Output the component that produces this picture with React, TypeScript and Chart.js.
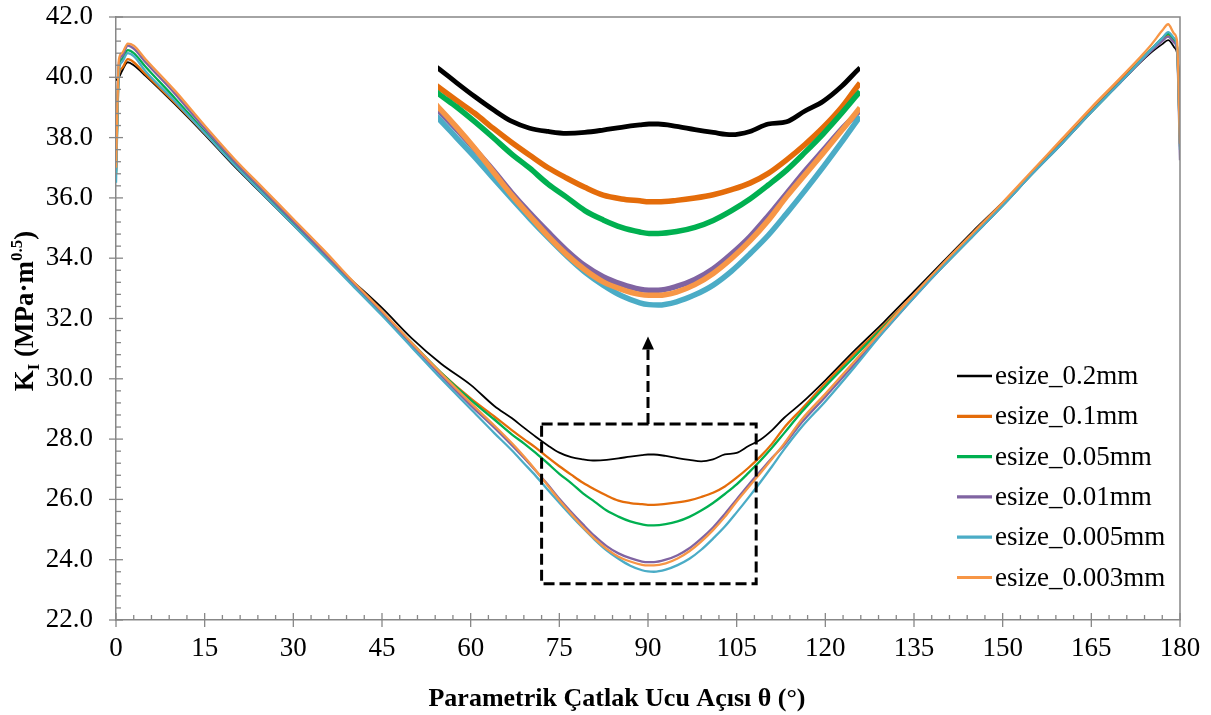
import React, { useEffect, useRef } from "react";
import { Chart, registerables } from "chart.js";

Chart.register(...registerables);

// ---------- data ----------
const THETA = [
  0, 0.5, 1, 2, 3, 5, 10, 15, 20, 25, 30, 35, 40, 45, 50, 55, 60, 64,
  67, 69, 71, 73, 75, 77, 79, 81, 83, 85, 87, 89, 90, 91, 93, 95, 97, 99, 101, 103, 105, 107, 109, 111, 113,
  116, 120, 125, 130, 135, 140, 145, 150, 155, 160, 165, 170, 175, 177, 178, 179, 179.5, 180,
];

const K_ESIZE_0_2 = [
  39.9, 40.0, 40.2, 40.5, 40.4, 40.05, 39.1, 38.1, 37.05, 36.08, 35.1, 34.15, 33.25, 32.35, 31.35, 30.5, 29.8, 29.1,
  28.69, 28.38, 28.08, 27.8, 27.55, 27.4, 27.33, 27.29, 27.31, 27.36, 27.42, 27.47, 27.49, 27.49, 27.44, 27.37, 27.31, 27.26, 27.33, 27.49, 27.54, 27.77, 27.98, 28.3, 28.7,
  29.2, 29.95, 30.95, 31.9, 32.9, 33.9, 34.9, 35.85, 36.85, 37.85, 38.85, 39.85, 40.8, 41.1, 41.23, 41.0, 40.8, 39.7,
];
const K_ESIZE_0_1 = [
  36.8, 40.1, 40.3, 40.6, 40.5, 40.1, 39.15, 38.15, 37.12, 36.12, 35.12, 34.12, 33.15, 32.15, 31.15, 30.2, 29.35, 28.75,
  28.29, 28.0, 27.72, 27.4, 27.1, 26.82, 26.55, 26.33, 26.13, 25.96, 25.88, 25.84, 25.82, 25.82, 25.85, 25.9, 25.97, 26.08, 26.22, 26.43, 26.72, 27.05, 27.42, 27.85, 28.37,
  29.0, 29.85, 30.85, 31.8, 32.8, 33.8, 34.8, 35.8, 36.85, 37.85, 38.9, 39.9, 40.9, 41.25, 41.4, 41.2, 41.0, 37.7,
];
const K_ESIZE_0_05 = [
  36.8, 40.4, 40.6, 40.9, 40.8, 40.35, 39.3, 38.2, 37.18, 36.18, 35.18, 34.18, 33.2, 32.2, 31.2, 30.2, 29.3, 28.65,
  28.15, 27.86, 27.54, 27.2, 26.85, 26.54, 26.2, 25.92, 25.63, 25.43, 25.27, 25.17, 25.14, 25.14, 25.18, 25.27, 25.42, 25.63, 25.88, 26.18, 26.5, 26.88, 27.28, 27.72, 28.19,
  28.9, 29.75, 30.75, 31.75, 32.75, 33.75, 34.75, 35.75, 36.8, 37.8, 38.85, 39.85, 40.9, 41.3, 41.45, 41.25, 41.0, 37.8,
];
const K_ESIZE_0_01 = [
  36.9, 40.5, 40.7, 41.05, 40.95, 40.5, 39.45, 38.3, 37.22, 36.22, 35.22, 34.2, 33.2, 32.2, 31.15, 30.1, 29.12, 28.38,
  27.79, 27.38, 26.95, 26.5, 26.02, 25.58, 25.17, 24.78, 24.45, 24.21, 24.05, 23.94, 23.92, 23.92, 24.0, 24.15, 24.38, 24.7, 25.07, 25.52, 26.0, 26.48, 26.93, 27.38, 27.79,
  28.55, 29.4, 30.5, 31.6, 32.7, 33.75, 34.75, 35.75, 36.8, 37.8, 38.85, 39.85, 40.85, 41.2, 41.35, 41.15, 40.9, 37.25,
];
const K_ESIZE_0_005 = [
  36.5, 40.2, 40.5, 40.8, 40.7, 40.2, 39.2, 38.15, 37.1, 36.1, 35.1, 34.1, 33.1, 32.1, 31.05, 30.0, 29.0, 28.2,
  27.62, 27.2, 26.78, 26.33, 25.89, 25.46, 25.05, 24.66, 24.31, 24.03, 23.8, 23.65, 23.61, 23.6, 23.67, 23.82, 24.03, 24.33, 24.7, 25.1, 25.57, 26.06, 26.57, 27.1, 27.65,
  28.4, 29.25, 30.4, 31.6, 32.7, 33.75, 34.75, 35.75, 36.8, 37.8, 38.85, 39.85, 40.9, 41.3, 41.5, 41.3, 41.0, 37.6,
];
const K_ESIZE_0_003 = [
  37.0, 40.6, 40.8, 41.12, 41.05, 40.6, 39.55, 38.4, 37.3, 36.3, 35.3, 34.3, 33.25, 32.25, 31.2, 30.18, 29.2, 28.45,
  27.86, 27.43, 26.97, 26.47, 25.97, 25.52, 25.08, 24.69, 24.36, 24.1, 23.94, 23.83, 23.81, 23.81, 23.88, 24.04, 24.28, 24.6, 24.98, 25.42, 25.93, 26.4, 26.87, 27.35, 27.84,
  28.65, 29.5, 30.6, 31.7, 32.8, 33.85, 34.85, 35.85, 36.9, 37.95, 39.0, 40.0, 41.05, 41.55, 41.76, 41.45, 41.2, 37.8,
];

const SERIES_NAMES = [
  "esize_0.2mm",
  "esize_0.1mm",
  "esize_0.05mm",
  "esize_0.01mm",
  "esize_0.005mm",
  "esize_0.003mm",
];
const SERIES_VALUES = [K_ESIZE_0_2, K_ESIZE_0_1, K_ESIZE_0_05, K_ESIZE_0_01, K_ESIZE_0_005, K_ESIZE_0_003];
const SERIES_COLORS = ["#000000", "#E46C0A", "#00B050", "#8064A2", "#4BACC6", "#F79646"];

const X_TICKS = [0, 15, 30, 45, 60, 75, 90, 105, 120, 135, 150, 165, 180];
const Y_TICKS = [22, 24, 26, 28, 30, 32, 34, 36, 38, 40, 42];
const X_MINOR_STEP = 3;
const Y_MINOR_STEP = 0.4;

const X_TITLE = "Parametrik Çatlak Ucu Açısı θ (°)";
const Y_TITLE_PARTS = [
  { text: "K", kind: "normal" },
  { text: "I", kind: "sub" },
  { text: " (MPa·m", kind: "normal" },
  { text: "0.5", kind: "sup" },
  { text: ")", kind: "normal" },
];

// zoom window (data units)
const ZOOM_BOX = { x0: 72, x1: 108.3, y0: 23.2, y1: 28.5 };
const ARROW = { x: 90, from: 28.5, to: 31.4 };
const INSET_X_RANGE = [67, 113];
const INSET_Y_RANGE = [23.28, 29.08];

// ---------- style ----------
const FONT = '"Liberation Serif", "Times New Roman", serif';
const AXIS_COLOR = "#878787";

function makeDatasets(widthBlack: number, widthOther: number, clip?: number) {
  return SERIES_VALUES.map((vals, i) => ({
    label: SERIES_NAMES[i],
    data: THETA.map((t, j) => ({ x: t, y: vals[j] })),
    borderColor: SERIES_COLORS[i],
    backgroundColor: SERIES_COLORS[i],
    borderWidth: i === 0 ? widthBlack : widthOther,
    pointRadius: 0,
    pointHoverRadius: 0,
    fill: false,
    cubicInterpolationMode: "monotone" as const,
    order: SERIES_VALUES.length - 1 - i,
    ...(clip !== undefined ? { clip } : {}),
  }));
}

const decorPlugin = {
  id: "decor",
  afterDatasetsDraw(chart: any) {
    const { ctx, scales } = chart;
    const x = scales.x;
    const y = scales.y;
    ctx.save();
    // dashed zoom rectangle
    const bx0 = x.getPixelForValue(ZOOM_BOX.x0);
    const bx1 = x.getPixelForValue(ZOOM_BOX.x1);
    const by0 = y.getPixelForValue(ZOOM_BOX.y0);
    const by1 = y.getPixelForValue(ZOOM_BOX.y1);
    ctx.strokeStyle = "#000";
    ctx.lineWidth = 3;
    ctx.setLineDash([11, 5]);
    ctx.strokeRect(bx0, by1, bx1 - bx0, by0 - by1);
    // arrow
    const ax = x.getPixelForValue(ARROW.x);
    const ay0 = y.getPixelForValue(ARROW.from);
    const tip = y.getPixelForValue(ARROW.to);
    const headLen = 13;
    ctx.beginPath();
    ctx.moveTo(ax, ay0);
    ctx.lineTo(ax, tip + headLen);
    ctx.stroke();
    ctx.setLineDash([]);
    ctx.fillStyle = "#000";
    ctx.beginPath();
    ctx.moveTo(ax, tip);
    ctx.lineTo(ax - 6, tip + headLen);
    ctx.lineTo(ax + 6, tip + headLen);
    ctx.closePath();
    ctx.fill();
    ctx.restore();
  },
  afterDraw(chart: any) {
    const { ctx, chartArea: a, scales } = chart;
    const x = scales.x;
    const y = scales.y;
    ctx.save();
    // frame (top/right)
    ctx.strokeStyle = AXIS_COLOR;
    ctx.lineWidth = 1.5;
    ctx.beginPath();
    ctx.moveTo(a.left, a.top);
    ctx.lineTo(a.right, a.top);
    ctx.lineTo(a.right, a.bottom);
    ctx.stroke();
    // x ticks
    ctx.lineWidth = 1.3;
    const nX = Math.round((x.max - x.min) / X_MINOR_STEP);
    for (let k = 0; k <= nX; k++) {
      const v = x.min + k * X_MINOR_STEP;
      const px = x.getPixelForValue(v);
      const major = X_TICKS.includes(v);
      ctx.beginPath();
      ctx.moveTo(px, a.bottom + (major ? 7 : 0));
      ctx.lineTo(px, a.bottom - (major ? 7 : 5));
      ctx.stroke();
    }
    // y ticks
    const nY = Math.round((y.max - y.min) / Y_MINOR_STEP);
    for (let k = 0; k <= nY; k++) {
      const v = y.min + k * Y_MINOR_STEP;
      const py = y.getPixelForValue(v);
      const major = Y_TICKS.some((t) => Math.abs(t - v) < 1e-6);
      ctx.beginPath();
      ctx.moveTo(a.left - (major ? 7 : 0), py);
      ctx.lineTo(a.left + (major ? 7 : 5), py);
      ctx.stroke();
    }
    // x title
    ctx.fillStyle = "#000";
    ctx.font = `bold 26px ${FONT}`;
    ctx.textAlign = "center";
    ctx.textBaseline = "alphabetic";
    ctx.fillText(X_TITLE, 617, 706);
    // y title (rotated, with sub/superscript)
    const big = `bold 27px ${FONT}`;
    const small = `bold 17px ${FONT}`;
    const widths = Y_TITLE_PARTS.map((p) => {
      ctx.font = p.kind === "normal" ? big : small;
      return ctx.measureText(p.text).width;
    });
    const total = widths.reduce((s, w) => s + w, 0);
    ctx.translate(33, 311);
    ctx.rotate(-Math.PI / 2);
    ctx.textAlign = "left";
    let cx = -total / 2;
    Y_TITLE_PARTS.forEach((p, i) => {
      ctx.font = p.kind === "normal" ? big : small;
      const dy = p.kind === "sub" ? 6 : p.kind === "sup" ? -11 : 0;
      ctx.fillText(p.text, cx, dy);
      cx += widths[i];
    });
    ctx.setTransform(1, 0, 0, 1, 0, 0);
    // legend
    const lx = 957;
    const lw = 35;
    const top = 376;
    const step = 40.3;
    ctx.font = `27px ${FONT}`;
    ctx.textBaseline = "middle";
    ctx.textAlign = "left";
    chart.data.datasets.forEach((ds: any, i: number) => {
      const ly = top + i * step;
      ctx.strokeStyle = ds.borderColor;
      ctx.lineWidth = i === 0 ? 2.6 : 3.2;
      ctx.beginPath();
      ctx.moveTo(lx, ly);
      ctx.lineTo(lx + lw, ly);
      ctx.stroke();
      ctx.fillStyle = "#000";
      ctx.fillText(ds.label, lx + lw + 3, ly + 1);
    });
    ctx.restore();
  },
};

function mainConfig(): any {
  return {
    type: "line",
    data: { datasets: makeDatasets(1.8, 2.3) },
    options: {
      animation: false,
      responsive: false,
      events: [],
      layout: { padding: { left: 0, top: 17, right: 31, bottom: 0 } },
      plugins: { legend: { display: false }, tooltip: { enabled: false }, title: { display: false } },
      scales: {
        x: {
          type: "linear",
          min: 0,
          max: 180,
          afterBuildTicks: (s: any) => {
            s.ticks = X_TICKS.map((v) => ({ value: v }));
          },
          afterFit: (s: any) => {
            s.height = 95;
            s.paddingLeft = 0;
            s.paddingRight = 0;
          },
          grid: { display: false, drawTicks: false },
          border: { display: true, color: AXIS_COLOR, width: 1.5 },
          ticks: {
            font: { family: FONT, size: 27 },
            color: "#000",
            padding: 13,
            maxRotation: 0,
            autoSkip: false,
            callback: (v: any) => String(v),
          },
        },
        y: {
          type: "linear",
          min: 22,
          max: 42,
          afterBuildTicks: (s: any) => {
            s.ticks = Y_TICKS.map((v) => ({ value: v }));
          },
          afterFit: (s: any) => {
            s.width = 116;
            s.paddingTop = 0;
            s.paddingBottom = 0;
          },
          grid: { display: false, drawTicks: false },
          border: { display: true, color: AXIS_COLOR, width: 1.5 },
          ticks: {
            font: { family: FONT, size: 27 },
            color: "#000",
            padding: 23,
            autoSkip: false,
            callback: (v: any) => Number(v).toFixed(1),
          },
        },
      },
    },
    plugins: [decorPlugin],
  };
}

function insetConfig(): any {
  return {
    type: "line",
    data: { datasets: makeDatasets(4.8, 5.5, 0) },
    options: {
      animation: false,
      responsive: false,
      events: [],
      layout: { padding: 0 },
      plugins: { legend: { display: false }, tooltip: { enabled: false }, title: { display: false } },
      scales: {
        x: { type: "linear", min: INSET_X_RANGE[0], max: INSET_X_RANGE[1], display: false },
        y: { type: "linear", min: INSET_Y_RANGE[0], max: INSET_Y_RANGE[1], display: false },
      },
    },
  };
}

export default function App() {
  const mainRef = useRef<HTMLCanvasElement>(null);
  const insetRef = useRef<HTMLCanvasElement>(null);

  useEffect(() => {
    const main = new Chart(mainRef.current as HTMLCanvasElement, mainConfig());
    const inset = new Chart(insetRef.current as HTMLCanvasElement, insetConfig());
    return () => {
      main.destroy();
      inset.destroy();
    };
  }, []);

  return (
    <div style={{ position: "absolute", left: 0, top: 0, width: 1211, height: 715, background: "#fff" }}>
      <canvas
        ref={mainRef}
        width={1211}
        height={715}
        style={{ position: "absolute", left: 0, top: 0, width: 1211, height: 715 }}
      />
      <canvas
        ref={insetRef}
        width={422}
        height={270}
        style={{ position: "absolute", left: 438, top: 50, width: 422, height: 270 }}
      />
    </div>
  );
}
